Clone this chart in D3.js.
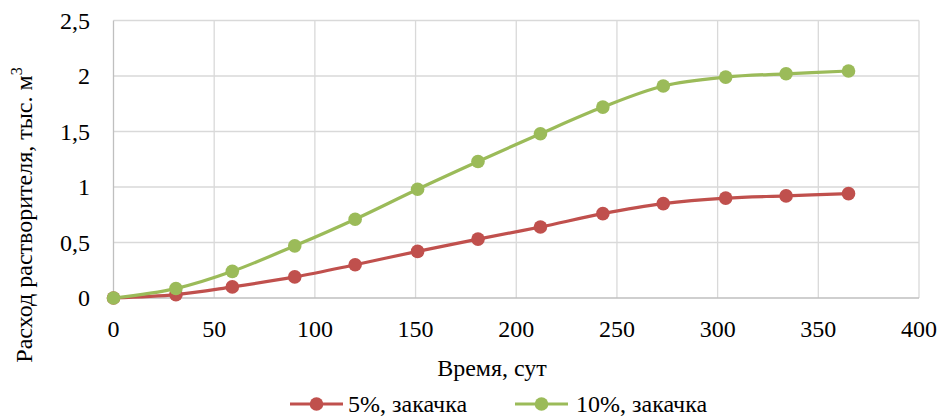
<!DOCTYPE html>
<html lang="ru"><head><meta charset="utf-8">
<script src="https://cdn.jsdelivr.net/npm/d3@7"></script>
<style>
@font-face{font-family:"ChartSerif";src:local("Liberation Serif"),local("LiberationSerif"),local("Times New Roman");}
</style>
</head><body style="margin:0"><svg id="c" width="945" height="417"></svg>
<script>
const days = [0,31,59,90,120,151,181,212,243,273,304,334,365];
const s5 = [0,0.03,0.10,0.19,0.30,0.42,0.53,0.64,0.76,0.85,0.90,0.92,0.94];
const s10 = [0,0.085,0.24,0.47,0.71,0.98,1.23,1.48,1.72,1.91,1.99,2.02,2.045];
const xTicks = [0,50,100,150,200,250,300,350,400];
const yTicks = [0,0.5,1,1.5,2,2.5];
const seriesNames = ["5%, закачка","10%, закачка"];
const colors = ["#C0504D","#9BBB59"];
const FF = "'Liberation Serif', ChartSerif, 'Times New Roman', Times, serif";

const svg = d3.select("#c");
const L=113.5, R=919, T=20.5, B=298;
const x = d3.scaleLinear().domain([0,400]).range([L,R]);
const y = d3.scaleLinear().domain([0,2.5]).range([B,T]);
const fmt = d => String(d).replace(".",",");
const ff = sel => sel.attr("font-family",FF).style("font-family",FF,"important");

svg.selectAll(".vg").data(xTicks.slice(1)).join("line")
 .attr("x1",d=>x(d)).attr("x2",d=>x(d)).attr("y1",T).attr("y2",B)
 .attr("stroke","#d9d9d9").attr("stroke-width",1.3);
svg.selectAll(".hg").data(yTicks.slice(1)).join("line")
 .attr("x1",L).attr("x2",R).attr("y1",d=>y(d)).attr("y2",d=>y(d))
 .attr("stroke","#d9d9d9").attr("stroke-width",1.3);
svg.append("line").attr("x1",L).attr("x2",L).attr("y1",T).attr("y2",B).attr("stroke","#bfbfbf").attr("stroke-width",1.3);
svg.append("line").attr("x1",L).attr("x2",R).attr("y1",B).attr("y2",B).attr("stroke","#bfbfbf").attr("stroke-width",1.3);

ff(svg.selectAll(".yt").data(yTicks).join("text"))
 .attr("x",90).attr("y",d=>y(d)+8).attr("text-anchor","end")
 .attr("font-size",24).text(fmt);
ff(svg.selectAll(".xt").data(xTicks).join("text"))
 .attr("x",d=>x(d)).attr("y",337).attr("text-anchor","middle")
 .attr("font-size",24).text(d=>d);

ff(svg.append("text")).attr("x",492).attr("y",376).attr("text-anchor","middle").attr("font-size",24).text("Время, сут");
const yt = ff(svg.append("text")).attr("transform","translate(32,215) rotate(-90)").attr("text-anchor","middle").attr("font-size",24);
yt.append("tspan").text("Расход растворителя, тыс. м");
yt.append("tspan").attr("dy","-10").attr("font-size",16).text("3");

const line = d3.line().x(d=>x(d[0])).y(d=>y(d[1])).curve(d3.curveCardinal.tension(0));
[s5,s10].forEach((s,i)=>{
  const pts = days.map((d,j)=>[d,s[j]]);
  svg.append("path").attr("d",line(pts)).attr("fill","none").attr("stroke",colors[i]).attr("stroke-width",3.2);
  svg.selectAll(".m"+i).data(pts).join("circle").attr("cx",d=>x(d[0])).attr("cy",d=>y(d[1])).attr("r",6.8).attr("fill",colors[i]);
});

const leg = [{x0:290,x1:343,tx:348},{x0:515,x1:568,tx:576}];
leg.forEach((l,i)=>{
  const ly=404;
  svg.append("line").attr("x1",l.x0).attr("x2",l.x1).attr("y1",ly).attr("y2",ly).attr("stroke",colors[i]).attr("stroke-width",3.2);
  svg.append("circle").attr("cx",(l.x0+l.x1)/2).attr("cy",ly).attr("r",6.8).attr("fill",colors[i]);
  ff(svg.append("text")).attr("x",l.tx).attr("y",ly+8).attr("font-size",24).text(seriesNames[i]);
});
</script></body></html>
